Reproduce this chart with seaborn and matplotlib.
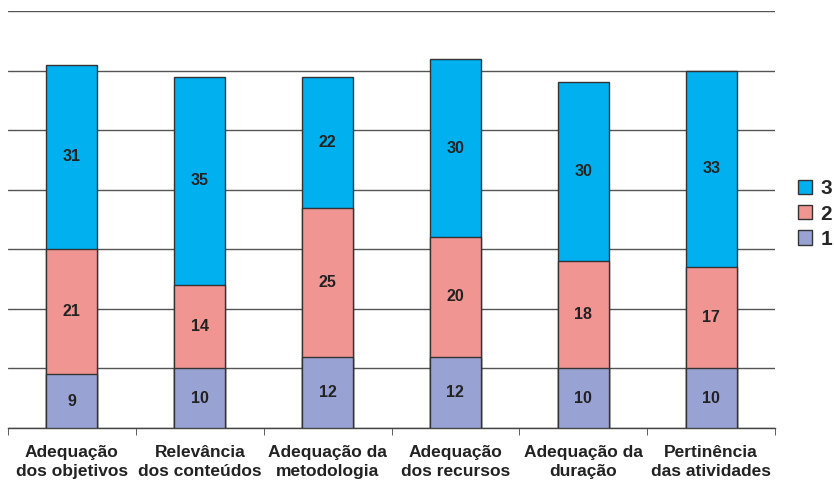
import numpy as np
import pandas as pd
import seaborn as sns
import matplotlib.pyplot as plt
from matplotlib.patches import Patch

# data
categories = ['Adequação\ndos objetivos', 'Relevância\ndos conteúdos', 'Adequação da\nmetodologia',
              'Adequação\ndos recursos', 'Adequação da\nduração', 'Pertinência\ndas atividades']
s1 = [9, 10, 12, 12, 10, 10]
s2 = [21, 14, 25, 20, 18, 17]
s3 = [31, 35, 22, 30, 30, 33]

colors = {'1': '#99A3D3', '2': '#F09592', '3': '#00B0EF'}

sns.set_style('white')
plt.rcParams['font.family'] = ['Liberation Sans', 'DejaVu Sans']

df = pd.DataFrame({'cat': categories, '1': s1, '2': s2, '3': s3})
df['c12'] = df['1'] + df['2']
df['c123'] = df['c12'] + df['3']

fig = plt.figure(figsize=(8.34, 4.86), dpi=100)
ax = fig.add_axes([8/834, 58/486, 767/834, 417/486])

# stacked bars: draw cumulative totals from back to front
for col, key in [('c123', '3'), ('c12', '2'), ('1', '1')]:
    sns.barplot(data=df, x='cat', y=col, color=colors[key], saturation=1,
                width=0.4, edgecolor='#333333', linewidth=1, ax=ax, zorder=3)

# segment labels
for i in range(len(categories)):
    bottoms = [0, s1[i], s1[i] + s2[i]]
    for b, v in zip(bottoms, [s1[i], s2[i], s3[i]]):
        ax.text(i, b + v / 2, str(v), ha='center', va='center',
                fontsize=11.5, fontweight='bold', color='#222222', zorder=5)

ax.set_ylim(0, 70)
ax.set_xlim(-0.5, 5.5)
ax.set_yticks(np.arange(0, 71, 10))
ax.set_yticklabels([])
ax.yaxis.grid(True, color='#555555', linewidth=1)
ax.set_axisbelow(True)
ax.set_xlabel('')
ax.set_ylabel('')
for s in ['left', 'right', 'top']:
    ax.spines[s].set_visible(False)
ax.spines['bottom'].set_color('#444444')
ax.spines['bottom'].set_linewidth(1)

ax.set_xticks(np.arange(-0.5, 6, 1), minor=True)
ax.tick_params(axis='x', which='minor', length=5, color='#444444', direction='out', bottom=True)
ax.tick_params(axis='x', which='major', length=0, pad=12)
ax.tick_params(axis='y', length=0)
for lab in ax.get_xticklabels():
    lab.set_fontsize(12.5)
    lab.set_fontweight('bold')
    lab.set_color('#222222')
    lab.set_linespacing(1.4)

handles = [Patch(facecolor=colors[k], edgecolor='#333333', label=k) for k in ['3', '2', '1']]
leg = fig.legend(handles=handles, loc='center left', bbox_to_anchor=(779/834, 1 - 214/486),
                 frameon=False, handlelength=0.7, handleheight=0.7, handletextpad=0.4,
                 labelspacing=0.3, prop={'size': 15, 'weight': 'bold'})

fig.savefig('out.png', dpi=100)
